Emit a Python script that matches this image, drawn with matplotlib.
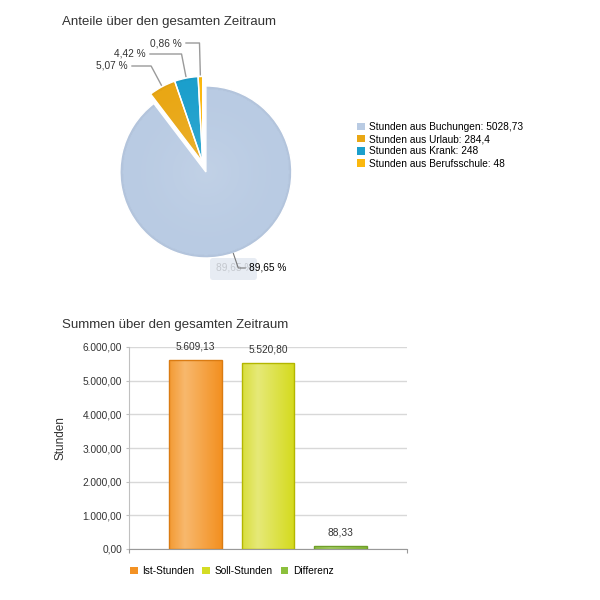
import matplotlib
matplotlib.use('Agg')
import matplotlib.pyplot as plt
import numpy as np
from matplotlib.colors import LinearSegmentedColormap, to_rgb
from matplotlib.patches import Patch, FancyBboxPatch

plt.rcParams['font.family'] = ['Liberation Sans', 'DejaVu Sans']

# Daten Kreisdiagramm
pie_labels = ['Stunden aus Buchungen', 'Stunden aus Urlaub',
              'Stunden aus Krank', 'Stunden aus Berufsschule']
pie_values = [5028.73, 284.4, 248, 48]
pie_colors = ['#b9cbe3', '#e9a714', '#1b9fcc', '#fbb80e']

# Daten Balkendiagramm
bar_labels = ['Ist-Stunden', 'Soll-Stunden', 'Differenz']
bar_values = [5609.13, 5520.80, 88.33]
bar_colors = ['#f39224', '#d4dc24', '#8cc03c']
y_ticks = [0, 1000, 2000, 3000, 4000, 5000, 6000]

# Farbverlauf der Balken (links, hell, rechts) und Rahmen
bar_stops = [('#f39a33', '#f8b86d', '#f39020'),
             ('#d9de3c', '#e6e978', '#d4da1c'),
             ('#8fbf42', '#a9d06a', '#86b836')]
bar_edges = ['#da7b12', '#b3b600', '#6f9e2a']

TXT = '#333333'
FS = 7.3


def de(v, nd=2):
    s = f'{v:,.{nd}f}'
    return s.replace(',', 'X').replace('.', ',').replace('X', '.')


def de_g(v):
    return format(v, 'g').replace('.', ',')


fig = plt.figure(figsize=(6, 6), dpi=100)
fig.patch.set_facecolor('white')

#%% Kreisdiagramm (Achse in Pixelkoordinaten, y nach oben)
pa = fig.add_axes([0, 0, 1, 1])
cx, cy, R = 202.7, 600 - 162.5, 86

# explode wird in Datenkoordinaten angegeben -> ca. 10 px
wedges, _ = pa.pie(pie_values, colors=pie_colors, startangle=90, counterclock=False,
                   center=(cx, cy), radius=R, explode=[10, 0, 0, 0],
                   wedgeprops=dict(edgecolor='white', linewidth=1))

# leichter radialer Verlauf
n = 200
g = np.linspace(-1, 1, n)
rr = np.clip(np.hypot(*np.meshgrid(g, g)), 0, 1)
for w, c in zip(wedges, pie_colors):
    base = np.array(to_rgb(c))
    k = 0.12 * (1 - rr) ** 1.5
    img = base[None, None, :] * (1 - k[..., None]) + k[..., None]
    img = img * (1 - 0.03 * (rr[..., None] > 0.97))
    wx, wy = w.center
    im = pa.imshow(img, extent=(wx - R, wx + R, wy - R, wy + R), zorder=0.9)
    im.set_clip_path(w)
    w.set_facecolor('none')
    w.set_zorder(1.2)

pct = [v / sum(pie_values) * 100 for v in pie_values]

# Beschriftungen der kleinen Segmente
lab_y = [None, 600 - 66, 600 - 54, 600 - 43]
lab_x = [None, 128, 146, 182]
for i in range(1, 4):
    w = wedges[i]
    a = np.deg2rad((w.theta1 + w.theta2) / 2)
    dx, dy = np.cos(a), np.sin(a)
    ex, ey = w.center[0] + R * 1.02 * dx, w.center[1] + R * 1.02 * dy
    s = (lab_y[i] - ey) / dy
    kx = ex + s * dx
    pa.plot([ex, kx, lab_x[i] + 4], [ey, lab_y[i], lab_y[i]], color='#9a9a9a', lw=1, zorder=3)
    pa.text(lab_x[i], lab_y[i], f'{pct[i]:.2f} %'.replace('.', ','), ha='right', va='center',
            fontsize=FS, color=TXT)

# Beschriftung des großen Segments (inkl. blassem Doppel-Label wie im Original)
w = wedges[0]
a = np.deg2rad((w.theta1 + w.theta2) / 2)
dx, dy = np.cos(a), np.sin(a)
ex, ey = w.center[0] + R * 1.0 * dx, w.center[1] + R * 1.0 * dy
ly = 600 - 268
s = (ly - ey) / dy
kx = ex + s * dx
big = f'{pct[0]:.2f} %'.replace('.', ',')
pa.add_patch(FancyBboxPatch((210, 600 - 280), 47, 22, boxstyle='round,pad=0,rounding_size=3',
                            facecolor='#e7ecf3', edgecolor='none', zorder=2))
pa.text(216, ly, big, ha='left', va='center', fontsize=FS, color='#c4c8ce', zorder=2.5)
pa.plot([ex, kx, kx + 7], [ey, ly, ly], color='#777777', lw=0.8, zorder=3)
pa.text(kx + 11, ly, big, ha='left', va='center', fontsize=FS, color='black', zorder=3)

pa.set_xlim(0, 600)
pa.set_ylim(0, 600)
pa.set_aspect('equal')
pa.axis('off')

fig.text(62 / 600, 1 - 22 / 600, 'Anteile über den gesamten Zeitraum', fontsize=9.5,
         va='center', ha='left', color=TXT)

fig.legend([Patch(facecolor=c) for c in pie_colors],
           [f'{l}: {de_g(v)}' for l, v in zip(pie_labels, pie_values)],
           loc='upper left', bbox_to_anchor=(357 / 600, 1 - 122 / 600), frameon=False,
           fontsize=FS, handlelength=0.75, handleheight=0.75, handletextpad=0.45,
           labelspacing=0.22, borderpad=0, borderaxespad=0)

#%% Balkendiagramm
bx = fig.add_axes([129 / 600, 51 / 600, 278 / 600, 202 / 600])
x = np.arange(len(bar_values))
bw = 0.73
bars = bx.bar(x, bar_values, width=bw, color='none', edgecolor=bar_edges, linewidth=1, zorder=3)

for xi, v, st in zip(x, bar_values, bar_stops):
    cmap = LinearSegmentedColormap.from_list('g', [(0, st[0]), (0.3, st[1]), (1, st[2])])
    grad = cmap(np.linspace(0, 1, 256))[None, :, :3]
    bx.imshow(grad, extent=(xi - bw / 2, xi + bw / 2, 0, v), aspect='auto', zorder=2.5)
    bx.annotate(de(v), (xi, v), xytext=(0, 9.5), textcoords='offset points',
                ha='center', va='center', fontsize=FS, color=TXT)

bx.set_xlim(-0.917, len(bar_values) - 1 + 0.917)
bx.set_ylim(0, 6000)
bx.set_yticks(y_ticks)
bx.set_yticklabels([de(t) for t in y_ticks], fontsize=FS, color=TXT)
bx.set_xticks(bx.get_xlim())
bx.set_xticklabels([])
bx.grid(axis='y', color='#d8d8d8', lw=1, zorder=0)
bx.set_axisbelow(True)
for sp in ['top', 'right']:
    bx.spines[sp].set_visible(False)
bx.spines['left'].set_color('#c0c0c0')
bx.spines['bottom'].set_color('#999999')
bx.tick_params(axis='y', length=2.5, color='#c0c0c0', pad=2.5)
bx.tick_params(axis='x', length=3, color='#999999')

fig.text(62 / 600, 1 - 325 / 600, 'Summen über den gesamten Zeitraum', fontsize=9.5,
         va='center', ha='left', color=TXT)
fig.text(60 / 600, 1 - 438 / 600, 'Stunden', rotation=90, ha='center', va='center',
         fontsize=8.5, color=TXT)

bx.legend([Patch(facecolor=c) for c in bar_colors], bar_labels, loc='center',
          bbox_to_anchor=(232 / 600, 1 - 571 / 600), bbox_transform=fig.transFigure,
          ncol=3, frameon=False, fontsize=FS, handlelength=0.75, handleheight=0.75,
          handletextpad=0.5, columnspacing=0.75, borderpad=0)

fig.savefig('out.png', dpi=100)
